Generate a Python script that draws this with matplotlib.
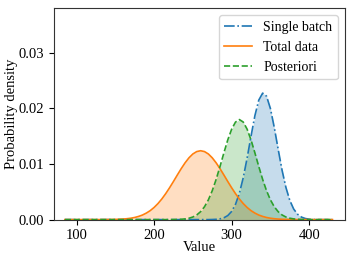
import matplotlib
matplotlib.use("Agg")
import matplotlib.pyplot as plt

plt.rcParams['font.family'] = ['Liberation Serif', 'DejaVu Serif']
plt.rcParams['font.size'] = 10

x_values = list(range(85, 431, 5))

single_batch = [0.0] * 38 + [
    0.000017, 0.000052, 0.000136, 0.000327, 0.000721, 0.001465, 0.002748,
    0.004747, 0.00756, 0.0111, 0.01501, 0.01871, 0.0215, 0.02276, 0.02221,
    0.01998, 0.01656, 0.01265, 0.0089, 0.00578, 0.003455, 0.0019, 0.000967,
    0.000452, 0.000195, 0.0000775, 0.0000285, 0.00001,
] + [0.0] * 4

total_data = [
    0.0, 0.0, 0.0, 0.0, 0.0000001, 0.0000002, 0.0000005, 0.000001, 0.000002,
    0.0000036, 0.0000066, 0.000012, 0.000021, 0.000036, 0.000061, 0.0001,
    0.00016, 0.00025, 0.00038, 0.00057, 0.00082, 0.00117, 0.00161, 0.00218,
    0.00288, 0.00371, 0.00467, 0.00573, 0.00686, 0.00803, 0.00917, 0.01022,
    0.01112, 0.01181, 0.01224, 0.01239, 0.01224, 0.01181, 0.01112, 0.01022,
    0.00917, 0.00803, 0.00686, 0.00573, 0.00467, 0.00371, 0.00288, 0.00218,
    0.00161, 0.00117, 0.00082, 0.00057, 0.00038, 0.00025, 0.00016, 0.0001,
    0.000061, 0.000036, 0.000021, 0.000012, 0.0000066, 0.0000036, 0.000002,
    0.000001,
] + [0.0] * 6

posteriori = [0.0] * 28 + [
    0.000011, 0.000027, 0.00006, 0.000125, 0.000247, 0.000466, 0.000836,
    0.001426, 0.002308, 0.003552, 0.005193, 0.007223, 0.00955, 0.012,
    0.01433, 0.01626, 0.01755, 0.018, 0.01755, 0.01626, 0.01433, 0.012,
    0.00955, 0.007223, 0.005193, 0.003552, 0.002308, 0.001426, 0.000836,
    0.000466, 0.000247, 0.000125, 0.00006, 0.000027, 0.000011,
] + [0.0] * 7

y_ticks = [0.00, 0.01, 0.02, 0.03]
x_ticks = [100, 200, 300, 400]

fig = plt.figure(figsize=(3.53, 2.63), dpi=100)
ax = fig.add_axes([0.153, 0.165, 0.824, 0.803])

ax.plot(x_values, single_batch, color='C0', linestyle='-.', lw=1.2, label='Single batch')
ax.fill_between(x_values, single_batch, color='C0', alpha=0.25, lw=0)
ax.plot(x_values, total_data, color='C1', linestyle='-', lw=1.2, label='Total data')
ax.fill_between(x_values, total_data, color='C1', alpha=0.25, lw=0)
ax.plot(x_values, posteriori, color='C2', linestyle='--', lw=1.2, label='Posteriori')
ax.fill_between(x_values, posteriori, color='C2', alpha=0.25, lw=0)

ax.set_xlim(71, 446)
ax.set_ylim(0, 0.038)
ax.set_xticks(x_ticks)
ax.set_yticks(y_ticks)
ax.set_yticklabels([f"{v:.2f}" for v in y_ticks])
ax.tick_params(labelsize=10.5)
ax.set_xlabel('Value', fontsize=10.5, labelpad=-1)
ax.set_ylabel('Probability density', fontsize=10.5, labelpad=0.5)
for s in ax.spines.values():
    s.set_color('#333333')
ax.legend(loc='upper right', fontsize=10)

fig.savefig('out.png', dpi=100)
